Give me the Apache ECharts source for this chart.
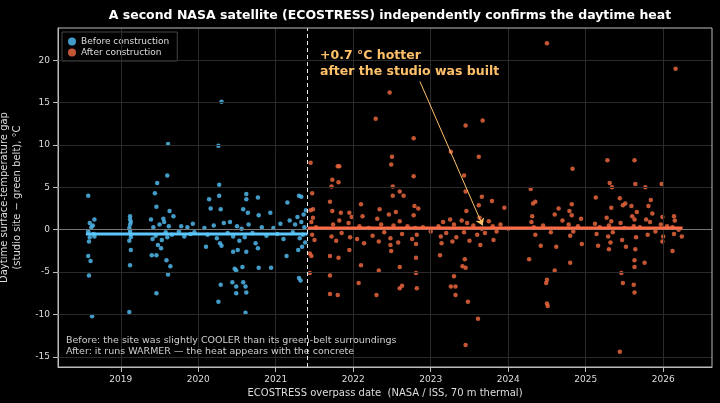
<!DOCTYPE html>
<html>
<head>
<meta charset="UTF-8">
<title>ECOSTRESS</title>
<script src="https://cdn.jsdelivr.net/npm/echarts@6/dist/echarts.min.js"></script>
</head>
<body style="margin:0;background:#000">
<div id="chartmain" style="width:720px;height:403px;"></div>
<script>
// [decimal year, gap °C]
var beforePts = [
  [2018.58,4.0],[2018.6,0.8],[2018.66,1.2],[2018.58,-3.1],[2018.61,-3.7],[2018.59,-5.4],[2018.63,-10.2],
  [2018.58,-0.2],[2018.6,-0.9],[2018.62,0.3],[2018.65,-0.5],[2018.59,-1.4],[2018.64,0.5],[2018.66,-0.8],
  [2019.12,1.6],[2019.12,1.2],[2019.13,-2.4],[2019.12,-4.2],[2019.11,-9.7],[2019.11,0.2],[2019.12,-0.4],
  [2019.13,-0.9],[2019.12,0.6],[2019.11,-1.3],[2019.13,0.9],[2019.12,-0.1],[2019.13,-0.6],
  [2019.61,10.1],[2019.6,6.4],[2019.47,5.5],[2019.44,4.3],[2019.46,2.7],[2019.39,1.2],[2019.46,-7.5],
  [2019.59,-3.6],[2019.64,-4.3],[2019.61,-5.3],[2019.4,-3.0],[2019.46,-3.0],[2019.63,2.2],[2019.68,1.6],
  [2019.42,0.3],[2019.45,-0.7],[2019.5,0.6],[2019.53,-1.2],[2019.56,0.9],[2019.58,-0.3],[2019.62,0.4],
  [2019.48,-1.8],[2019.66,-0.6],[2019.41,-1.1],[2019.55,1.3],[2019.6,-0.9],[2019.52,-2.2],
  [2019.75,-0.2],[2019.78,0.4],[2019.82,-0.8],[2019.86,0.3],[2019.9,-0.5],[2019.93,0.7],[2019.95,-0.3],
  [2020.3,15.1],[2020.26,9.9],[2020.27,5.3],[2020.27,4.0],[2020.14,3.6],[2020.16,2.5],[2020.29,2.4],
  [2020.58,2.4],[2020.62,4.2],[2020.62,3.6],[2020.77,3.8],[2020.64,2.0],[2020.78,1.7],[2020.93,2.0],
  [2021.15,3.2],[2020.1,-2.0],[2020.29,-6.5],[2020.26,-8.5],[2020.47,-4.6],[2020.49,-4.8],[2020.57,-4.4],
  [2020.44,-6.2],[2020.49,-6.7],[2020.49,-7.5],[2020.61,-6.7],[2020.62,-7.4],[2020.58,-6.2],[2020.61,-9.8],
  [2020.78,-4.5],[2020.94,-4.5],[2020.77,-2.2],[2020.62,-2.6],[2020.45,-2.6],[2020.51,-2.4],[2021.14,-3.1],
  [2021.3,4.0],[2021.33,3.9],[2021.3,-5.7],[2021.32,-6.0],[2021.29,-2.4],
  [2020.08,0.2],[2020.12,-0.6],[2020.2,0.5],[2020.24,-1.0],[2020.28,-1.6],[2020.3,-1.9],[2020.33,0.8],
  [2020.38,-0.4],[2020.41,0.9],[2020.45,-0.8],[2020.5,0.4],[2020.53,-1.3],[2020.56,0.1],[2020.6,-0.9],
  [2020.65,0.6],[2020.7,-0.4],[2020.74,-1.6],[2020.82,0.3],[2020.88,-0.7],[2020.97,0.2],[2021.02,-0.5],
  [2021.06,0.7],[2021.1,-1.1],[2021.18,1.1],[2021.22,-0.3],[2021.25,0.6],[2021.28,1.5],[2021.31,-1.0],
  [2021.33,0.9],[2021.35,-0.6],[2021.36,1.8],[2021.38,-1.5],[2021.37,0.3],[2021.34,-2.0],[2021.39,2.3]
];
var afterPts = [
  [2021.45,7.9],[2021.47,4.3],[2021.48,2.4],[2021.45,2.3],[2021.44,-2.8],[2021.46,-3.1],[2021.44,-5.1],
  [2021.7,-5.4],[2021.7,-7.6],[2021.7,-3.1],[2021.7,3.3],[2021.72,5.1],[2021.73,5.9],[2021.73,2.2],
  [2021.8,7.5],[2021.82,7.5],[2021.81,5.6],[2021.81,-3.3],[2021.8,-7.7],[2021.84,2.0],[2021.95,2.0],
  [2021.95,-2.4],[2022.07,-6.3],[2022.1,-4.2],[2022.1,3.0],[2022.29,13.1],[2022.3,-7.7],[2022.33,-4.8],
  [2022.34,2.4],[2022.47,16.2],[2022.49,7.7],[2022.5,8.6],[2022.51,5.1],[2022.51,4.0],[2022.48,-1.8],
  [2022.49,-2.5],[2022.6,4.5],[2022.65,4.0],[2022.6,-4.4],[2022.6,-6.9],[2022.63,-6.6],[2022.78,10.8],
  [2022.78,6.3],[2022.79,2.8],[2022.81,-1.7],[2022.81,-3.3],[2022.81,-5.1],[2022.82,-6.9],[2023.12,-3.0],
  [2023.14,-1.6],[2023.26,9.2],[2023.3,-5.5],[2023.32,-7.7],[2023.32,-6.7],[2023.26,-6.7],[2023.43,6.4],
  [2023.45,12.3],[2023.45,4.5],[2023.44,-3.5],[2023.45,-4.5],[2023.41,-4.3],[2023.48,-8.5],[2023.45,-13.6],
  [2023.62,8.6],[2023.67,12.9],[2023.66,3.9],[2023.62,2.9],[2023.64,-1.8],[2023.61,-10.5],[2023.79,3.4],
  [2023.81,-1.2],[2023.95,2.6],
  [2024.5,22.0],[2026.16,19.0],[2024.29,4.8],[2024.32,3.1],[2024.35,3.3],[2024.27,-3.5],[2024.49,-6.3],
  [2024.5,-5.9],[2024.5,-8.7],[2024.51,-9.0],[2024.6,-4.8],[2024.62,-2.0],[2024.42,-1.9],[2024.6,1.8],
  [2024.65,2.5],[2024.83,7.2],[2024.82,3.0],[2024.79,2.2],[2024.8,-3.9],[2024.95,-1.7],[2024.94,1.3],
  [2025.13,3.8],[2025.16,-1.9],[2025.28,8.2],[2025.31,5.5],[2025.34,5.0],[2025.33,2.6],[2025.3,-2.3],
  [2025.44,3.7],[2025.48,2.9],[2025.51,3.1],[2025.46,-5.1],[2025.48,-6.3],[2025.44,-14.4],[2025.63,8.2],
  [2025.64,5.4],[2025.59,2.8],[2025.66,2.1],[2025.63,1.2],[2025.64,-2.3],[2025.63,-3.6],[2025.63,-4.4],
  [2025.62,-6.5],[2025.63,-7.4],[2025.77,5.0],[2025.84,3.5],[2025.81,2.8],[2025.76,-3.9],[2025.98,5.4],
  [2025.99,1.5],[2025.99,-1.4],[2026.12,-2.5],[2026.14,1.6],[2026.24,-0.8],
  // dense band near zero
  [2021.46,0.9],[2021.47,-0.6],[2021.48,1.4],[2021.5,-1.2],[2021.52,0.3],[2021.72,-0.8],[2021.74,0.6],
  [2021.78,-1.3],[2021.82,1.1],[2021.85,-0.4],[2021.94,0.8],[2021.96,-0.9],[2021.98,1.5],[2022.05,-1.1],
  [2022.08,0.4],[2022.12,1.6],[2022.14,-1.6],[2022.2,0.2],[2022.25,-0.7],[2022.31,1.3],[2022.33,-1.4],
  [2022.36,0.6],[2022.4,-0.3],[2022.46,1.8],[2022.48,-1.0],[2022.52,0.5],[2022.55,2.1],[2022.58,-1.5],
  [2022.6,1.0],[2022.63,-0.5],[2022.7,0.4],[2022.76,-1.1],[2022.78,1.7],[2022.8,0.2],[2022.82,-0.6],
  [2022.84,2.5],[2022.9,0.3],[2023.0,-0.2],[2023.1,0.4],[2023.13,-0.8],[2023.16,0.9],[2023.2,-0.4],
  [2023.25,1.2],[2023.28,-1.4],[2023.3,0.6],[2023.33,-0.9],[2023.4,1.1],[2023.43,-0.3],[2023.46,2.2],
  [2023.47,0.8],[2023.5,-1.3],[2023.55,0.5],[2023.6,-0.6],[2023.63,1.4],[2023.66,0.1],[2023.7,-0.4],
  [2023.75,1.0],[2023.8,0.4],[2023.85,-0.2],[2023.9,0.6],[2024.0,0.1],[2024.3,0.9],[2024.31,1.6],
  [2024.33,0.3],[2024.35,-0.6],[2024.45,0.5],[2024.55,-0.3],[2024.7,1.1],[2024.78,0.6],[2024.8,-0.7],
  [2024.82,1.7],[2024.84,-0.2],[2024.9,0.4],[2025.12,0.7],[2025.14,-0.5],[2025.18,0.3],[2025.27,1.4],
  [2025.29,-0.8],[2025.3,0.5],[2025.32,-1.5],[2025.33,1.0],[2025.35,-0.3],[2025.45,0.8],[2025.47,-1.2],
  [2025.5,0.2],[2025.52,-2.0],[2025.6,1.6],[2025.62,0.4],[2025.65,-0.9],[2025.7,0.3],[2025.78,1.2],
  [2025.8,-0.6],[2025.83,0.9],[2025.86,1.9],[2025.9,-0.2],[2025.97,0.6],[2026.0,-0.8],[2026.05,0.4],
  [2026.12,0.3],[2026.14,-0.5],[2026.15,1.1],[2026.2,0.0]
];
var buildDate = 2021.41;
var meanBefore = -0.5, meanAfter = 0.2;
var beforeSpan = [2018.55, buildDate];
var afterSpan = [buildDate, 2026.25];
var xTicks = [2019, 2020, 2021, 2022, 2023, 2024, 2025, 2026];
var yTicks = [-15, -10, -5, 0, 5, 10, 15, 20];
var arrowFrom = [2022.86, 17.5], arrowTo = [2023.67, 0.5];

var mychart = echarts.init(document.getElementById("chartmain"));
var grey = '#bbbbbb';
var gridLines = xTicks.map(function(t){ return {xAxis: t}; })
  .concat(yTicks.map(function(t){ return {yAxis: t}; }));

var myoption = {
  backgroundColor: '#000',
  animation: false,
  textStyle: {fontFamily: 'DejaVu Sans'},
  title: {
    text: 'A second NASA satellite (ECOSTRESS) independently confirms the daytime heat',
    left: 385, top: 4, textAlign: 'center',
    textStyle: {color: '#fff', fontSize: 12.5, fontWeight: 'bold'}
  },
  grid: {left: 58, right: 8, top: 28, bottom: 36, outerBoundsMode: 'none', containLabel: false},
  legend: {
    left: 62, top: 32, orient: 'vertical', itemGap: 2, itemWidth: 8, itemHeight: 8,
    borderColor: '#444', borderWidth: 1, padding: [5, 8, 4, 6],
    backgroundColor: 'rgba(0,0,0,0.8)',
    textStyle: {color: '#ddd', fontSize: 9},
    data: [{name: 'Before construction', icon: 'circle'}, {name: 'After construction', icon: 'circle'}]
  },
  xAxis: {
    type: 'value', min: 2018.19, max: 2026.63,
    name: 'ECOSTRESS overpass date  (NASA / ISS, 70 m thermal)',
    nameLocation: 'middle', nameGap: 20, nameTextStyle: {color: '#ddd', fontSize: 10},
    axisLine: {onZero: false, lineStyle: {color: grey}},
    axisTick: {show: true, customValues: xTicks, lineStyle: {color: grey}},
    axisLabel: {customValues: xTicks, color: '#ddd', fontSize: 9, formatter: function(v){ return Math.round(v); }},
    splitLine: {show: false}
  },
  yAxis: {
    type: 'value', min: -16.2, max: 23.8,
    name: 'Daytime surface-temperature gap\n(studio site − green belt), °C',
    nameLocation: 'middle', nameGap: 26, nameTextStyle: {color: '#ddd', fontSize: 10, lineHeight: 13},
    axisLine: {show: true, lineStyle: {color: grey}},
    axisTick: {show: true, customValues: yTicks, lineStyle: {color: grey}},
    axisLabel: {customValues: yTicks, color: '#ddd', fontSize: 9},
    splitLine: {show: false}
  },
  graphic: [
    {type: 'rect', shape: {x: 58, y: 28, width: 654, height: 339}, style: {fill: 'none', stroke: grey, lineWidth: 1}, silent: true, z: 10},
    {type: 'text', left: 66, top: 335, style: {
      text: 'Before: the site was slightly COOLER than its green-belt surroundings\nAfter: it runs WARMER — the heat appears with the concrete',
      fill: '#cfcfcf', fontSize: 9.5, lineHeight: 11, fontFamily: 'DejaVu Sans'}, z: 20},
    {type: 'text', left: 320, top: 48, style: {
      text: '+0.7 °C hotter\nafter the studio was built',
      fill: '#ffc06a', fontSize: 12.5, fontWeight: 'bold', lineHeight: 16, fontFamily: 'DejaVu Sans'}, z: 20}
  ],
  series: [
    {
      type: 'line', data: [], silent: true,
      markLine: {symbol: 'none', silent: true, label: {show: false},
        lineStyle: {color: '#2a2a2a', type: 'solid', width: 1}, data: gridLines}
    },
    {
      type: 'line', data: [], silent: true,
      markLine: {symbol: 'none', silent: true, label: {show: false}, data: [
        {yAxis: 0, lineStyle: {color: '#777', type: 'solid', width: 1}},
        {xAxis: buildDate, lineStyle: {color: '#eee', type: [4, 3], width: 1}}
      ]}
    },
    {
      name: 'Before construction', type: 'scatter', data: beforePts, symbolSize: 4.5,
      itemStyle: {color: '#4fb6ea', opacity: 0.85}
    },
    {
      name: 'After construction', type: 'scatter', data: afterPts, symbolSize: 4.5,
      itemStyle: {color: '#e8653d', opacity: 0.85}
    },
    {
      type: 'line', data: [[beforeSpan[0], meanBefore], [beforeSpan[1], meanBefore]], symbol: 'none',
      lineStyle: {color: '#5cc8ff', width: 3}, z: 5
    },
    {
      type: 'line', data: [[afterSpan[0], meanAfter], [afterSpan[1], meanAfter]], symbol: 'none',
      lineStyle: {color: '#ff6a45', width: 3}, z: 5
    },
    {
      type: 'line', data: [], silent: true,
      markLine: {symbol: ['none', 'arrow'], symbolSize: 7, silent: true, label: {show: false},
        lineStyle: {color: '#ffc06a', type: 'solid', width: 1},
        data: [[{coord: arrowFrom}, {coord: arrowTo}]]}
    }
  ]
};
mychart.setOption(myoption);
</script>
</body>
</html>
